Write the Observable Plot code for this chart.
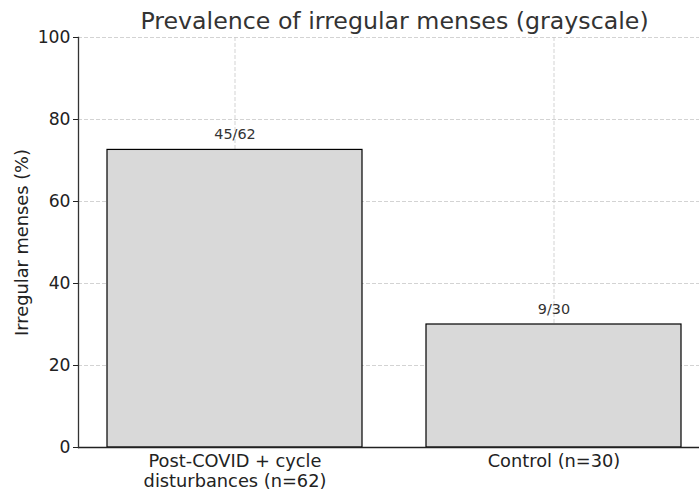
<!DOCTYPE html>
<html><head><meta charset="utf-8">
<script src="https://cdn.jsdelivr.net/npm/d3@7"></script>
<script src="https://cdn.jsdelivr.net/npm/@observablehq/plot@0.6"></script>
<style>html,body{margin:0;padding:0;overflow:hidden;background:#fff}</style>
</head><body><div id="chart"></div>
<script>
const groups = ["Post-COVID + cycle\ndisturbances (n=62)", "Control (n=30)"];
const affected = [45, 9];
const totals = [62, 30];
const yTicks = [0, 20, 40, 60, 80, 100];
const title = "Prevalence of irregular menses (grayscale)";
const yLabel = "Irregular menses (%)";

const data = groups.map((g, i) => ({
  group: g,
  pct: affected[i] / totals[i] * 100,
  label: `${affected[i]}/${totals[i]}`
}));

const font = "'DejaVu Sans', sans-serif";
const gridStyle = {stroke: "#c8c8c8", strokeOpacity: 1, strokeDasharray: "4,2", strokeWidth: 0.8};

const chart = Plot.plot({
  width: 699, height: 492,
  marginTop: 37, marginBottom: 45, marginLeft: 78, marginRight: -11,
  style: {fontFamily: font, background: "#fff", overflow: "hidden"},
  x: {domain: groups, paddingInner: 0.2, paddingOuter: 0.089, axis: null},
  y: {domain: [0, 100], axis: null},
  marks: [
    Plot.gridY(yTicks, gridStyle),
    Plot.gridX(groups, gridStyle),
    Plot.barY(data, {x: "group", y: "pct", fill: "#d9d9d9", stroke: "#000", strokeWidth: 1.2}),
    Plot.text(data, {x: "group", y: "pct", text: "label", dy: -11, lineAnchor: "bottom", fontSize: 14.4, fill: "#333"}),
    Plot.ruleY([0], {stroke: "#222", strokeWidth: 1.3}),
    Plot.frame({anchor: "left", stroke: "#333", strokeWidth: 1.3}),
    Plot.axisY({ticks: yTicks, tickSize: 5, tickPadding: 3, fontSize: 17.2, label: null, color: "#222"}),
    Plot.text(groups, {x: d => d, text: d => d, frameAnchor: "bottom", lineAnchor: "top", dy: 5, lineHeight: 1.13, fontSize: 17.8, fill: "#222"}),
    Plot.text([yLabel], {text: d => d, frameAnchor: "left", rotate: -90, dx: -56, fontSize: 17.8, textAnchor: "middle", lineAnchor: "middle", fill: "#222"}),
    Plot.text([title], {text: d => d, frameAnchor: "top", lineAnchor: "bottom", dy: -9, fontSize: 23.7, fill: "#333"})
  ]
});
document.getElementById("chart").appendChild(chart);
</script>
</body></html>
